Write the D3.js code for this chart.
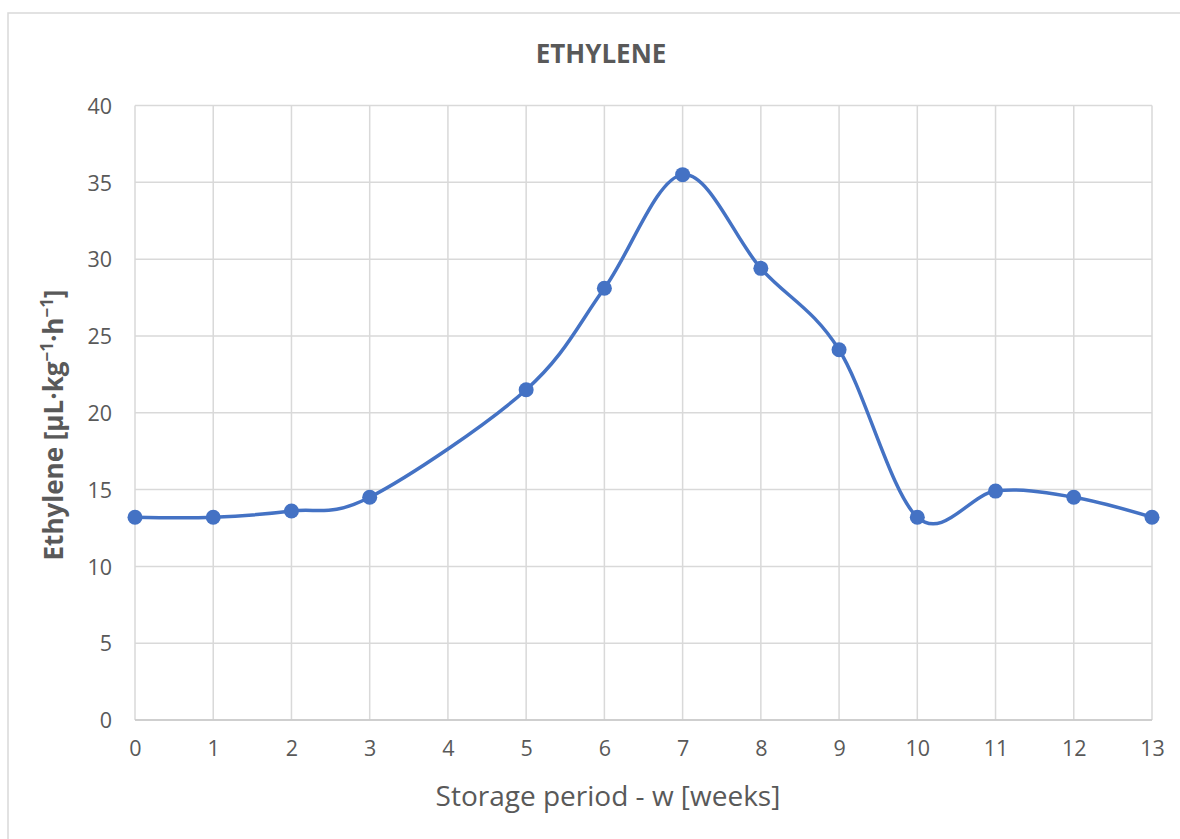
<!DOCTYPE html>
<html>
<head>
<meta charset="utf-8">
<script src="https://cdn.jsdelivr.net/npm/d3@7"></script>
<style>
  html, body { margin: 0; padding: 0; background: #fff; }
  svg { display: block; }
</style>
</head>
<body>
<svg id="chart" width="1180" height="839"></svg>
<script>
// Ethylene production over storage weeks
const weeks = [0, 1, 2, 3, 5, 6, 7, 8, 9, 10, 11, 12, 13];
const ethylene = [13.2, 13.2, 13.6, 14.5, 21.5, 28.1, 35.5, 29.4, 24.1, 13.2, 14.9, 14.5, 13.2];
const xTicks = [0, 1, 2, 3, 4, 5, 6, 7, 8, 9, 10, 11, 12, 13];
const yTicks = [0, 5, 10, 15, 20, 25, 30, 35, 40];

(function () {
  const svg = d3.select("#chart");
  const font = "'Open Sans', 'Liberation Sans', sans-serif";
  const textGrey = "#595959";
  const gridGrey = "#d9d9d9";
  const blue = "#4472C4";

  // chart frame
  svg.append("rect")
    .attr("x", 8).attr("y", 13)
    .attr("width", 1200).attr("height", 900)
    .attr("fill", "#fff")
    .attr("stroke", gridGrey).attr("stroke-width", 1.5);

  const plotLeft = 135, plotRight = 1152, plotTop = 105.5, plotBottom = 720;
  const x = d3.scaleLinear().domain([0, 13]).range([plotLeft, plotRight]);
  const y = d3.scaleLinear().domain([0, 40]).range([plotBottom, plotTop]);

  // gridlines
  const grid = svg.append("g");
  grid.selectAll("line.h").data(yTicks).join("line")
    .attr("class", "h")
    .attr("x1", plotLeft).attr("x2", plotRight)
    .attr("y1", d => y(d)).attr("y2", d => y(d))
    .attr("stroke", gridGrey).attr("stroke-width", 1.5);
  grid.selectAll("line.v").data(xTicks).join("line")
    .attr("class", "v")
    .attr("y1", plotTop).attr("y2", plotBottom)
    .attr("x1", d => x(d)).attr("x2", d => x(d))
    .attr("stroke", gridGrey).attr("stroke-width", 1.5);
  // baseline
  svg.append("line")
    .attr("x1", plotLeft).attr("x2", plotRight)
    .attr("y1", y(0)).attr("y2", y(0))
    .attr("stroke", "#c8c8c8").attr("stroke-width", 1.5);

  // axis labels
  const yAxis = d3.axisLeft(y).tickValues(yTicks).tickSize(0).tickPadding(23);
  const gy = svg.append("g").attr("transform", `translate(${plotLeft},0)`).call(yAxis);
  gy.select(".domain").remove();
  gy.selectAll("text").attr("font-family", font).attr("font-size", 21.5)
    .attr("fill", textGrey).attr("dy", "0.36em");

  const xAxis = d3.axisBottom(x).tickValues(xTicks).tickSize(0).tickPadding(21);
  const gx = svg.append("g").attr("transform", `translate(0,${plotBottom})`).call(xAxis);
  gx.select(".domain").remove();
  gx.selectAll("text").attr("font-family", font).attr("font-size", 21.5)
    .attr("fill", textGrey);

  // title
  svg.append("text")
    .attr("x", 601).attr("y", 63)
    .attr("text-anchor", "middle")
    .attr("font-family", font).attr("font-weight", "bold").attr("font-size", 26)
    .attr("fill", textGrey)
    .text("ETHYLENE");

  // x axis title
  svg.append("text")
    .attr("x", 608).attr("y", 806)
    .attr("text-anchor", "middle")
    .attr("font-family", font).attr("font-size", 28)
    .attr("fill", textGrey)
    .text("Storage period - w [weeks]");

  // y axis title with superscripts
  const yt = svg.append("text")
    .attr("transform", "translate(63,425) rotate(-90)")
    .attr("text-anchor", "middle")
    .attr("font-family", font).attr("font-weight", "bold").attr("font-size", 26)
    .attr("fill", textGrey);
  yt.append("tspan").text("Ethylene [µL·kg");
  yt.append("tspan").attr("dy", -10).attr("font-size", 17).text("−1");
  yt.append("tspan").attr("dy", 10).text("·h");
  yt.append("tspan").attr("dy", -10).attr("font-size", 17).text("−1");
  yt.append("tspan").attr("dy", 10).text("]");

  // smoothed series line
  const pts = weeks.map((w, i) => [w, ethylene[i]]);
  const line = d3.line()
    .x(d => x(d[0])).y(d => y(d[1]))
    .curve(d3.curveCardinal.tension(0));
  svg.append("path")
    .datum(pts)
    .attr("d", line)
    .attr("fill", "none")
    .attr("stroke", blue).attr("stroke-width", 3.5)
    .attr("stroke-linejoin", "round");

  // markers
  svg.append("g").selectAll("circle").data(pts).join("circle")
    .attr("cx", d => x(d[0])).attr("cy", d => y(d[1]))
    .attr("r", 7.5)
    .attr("fill", blue);
})();
</script>
</body>
</html>
